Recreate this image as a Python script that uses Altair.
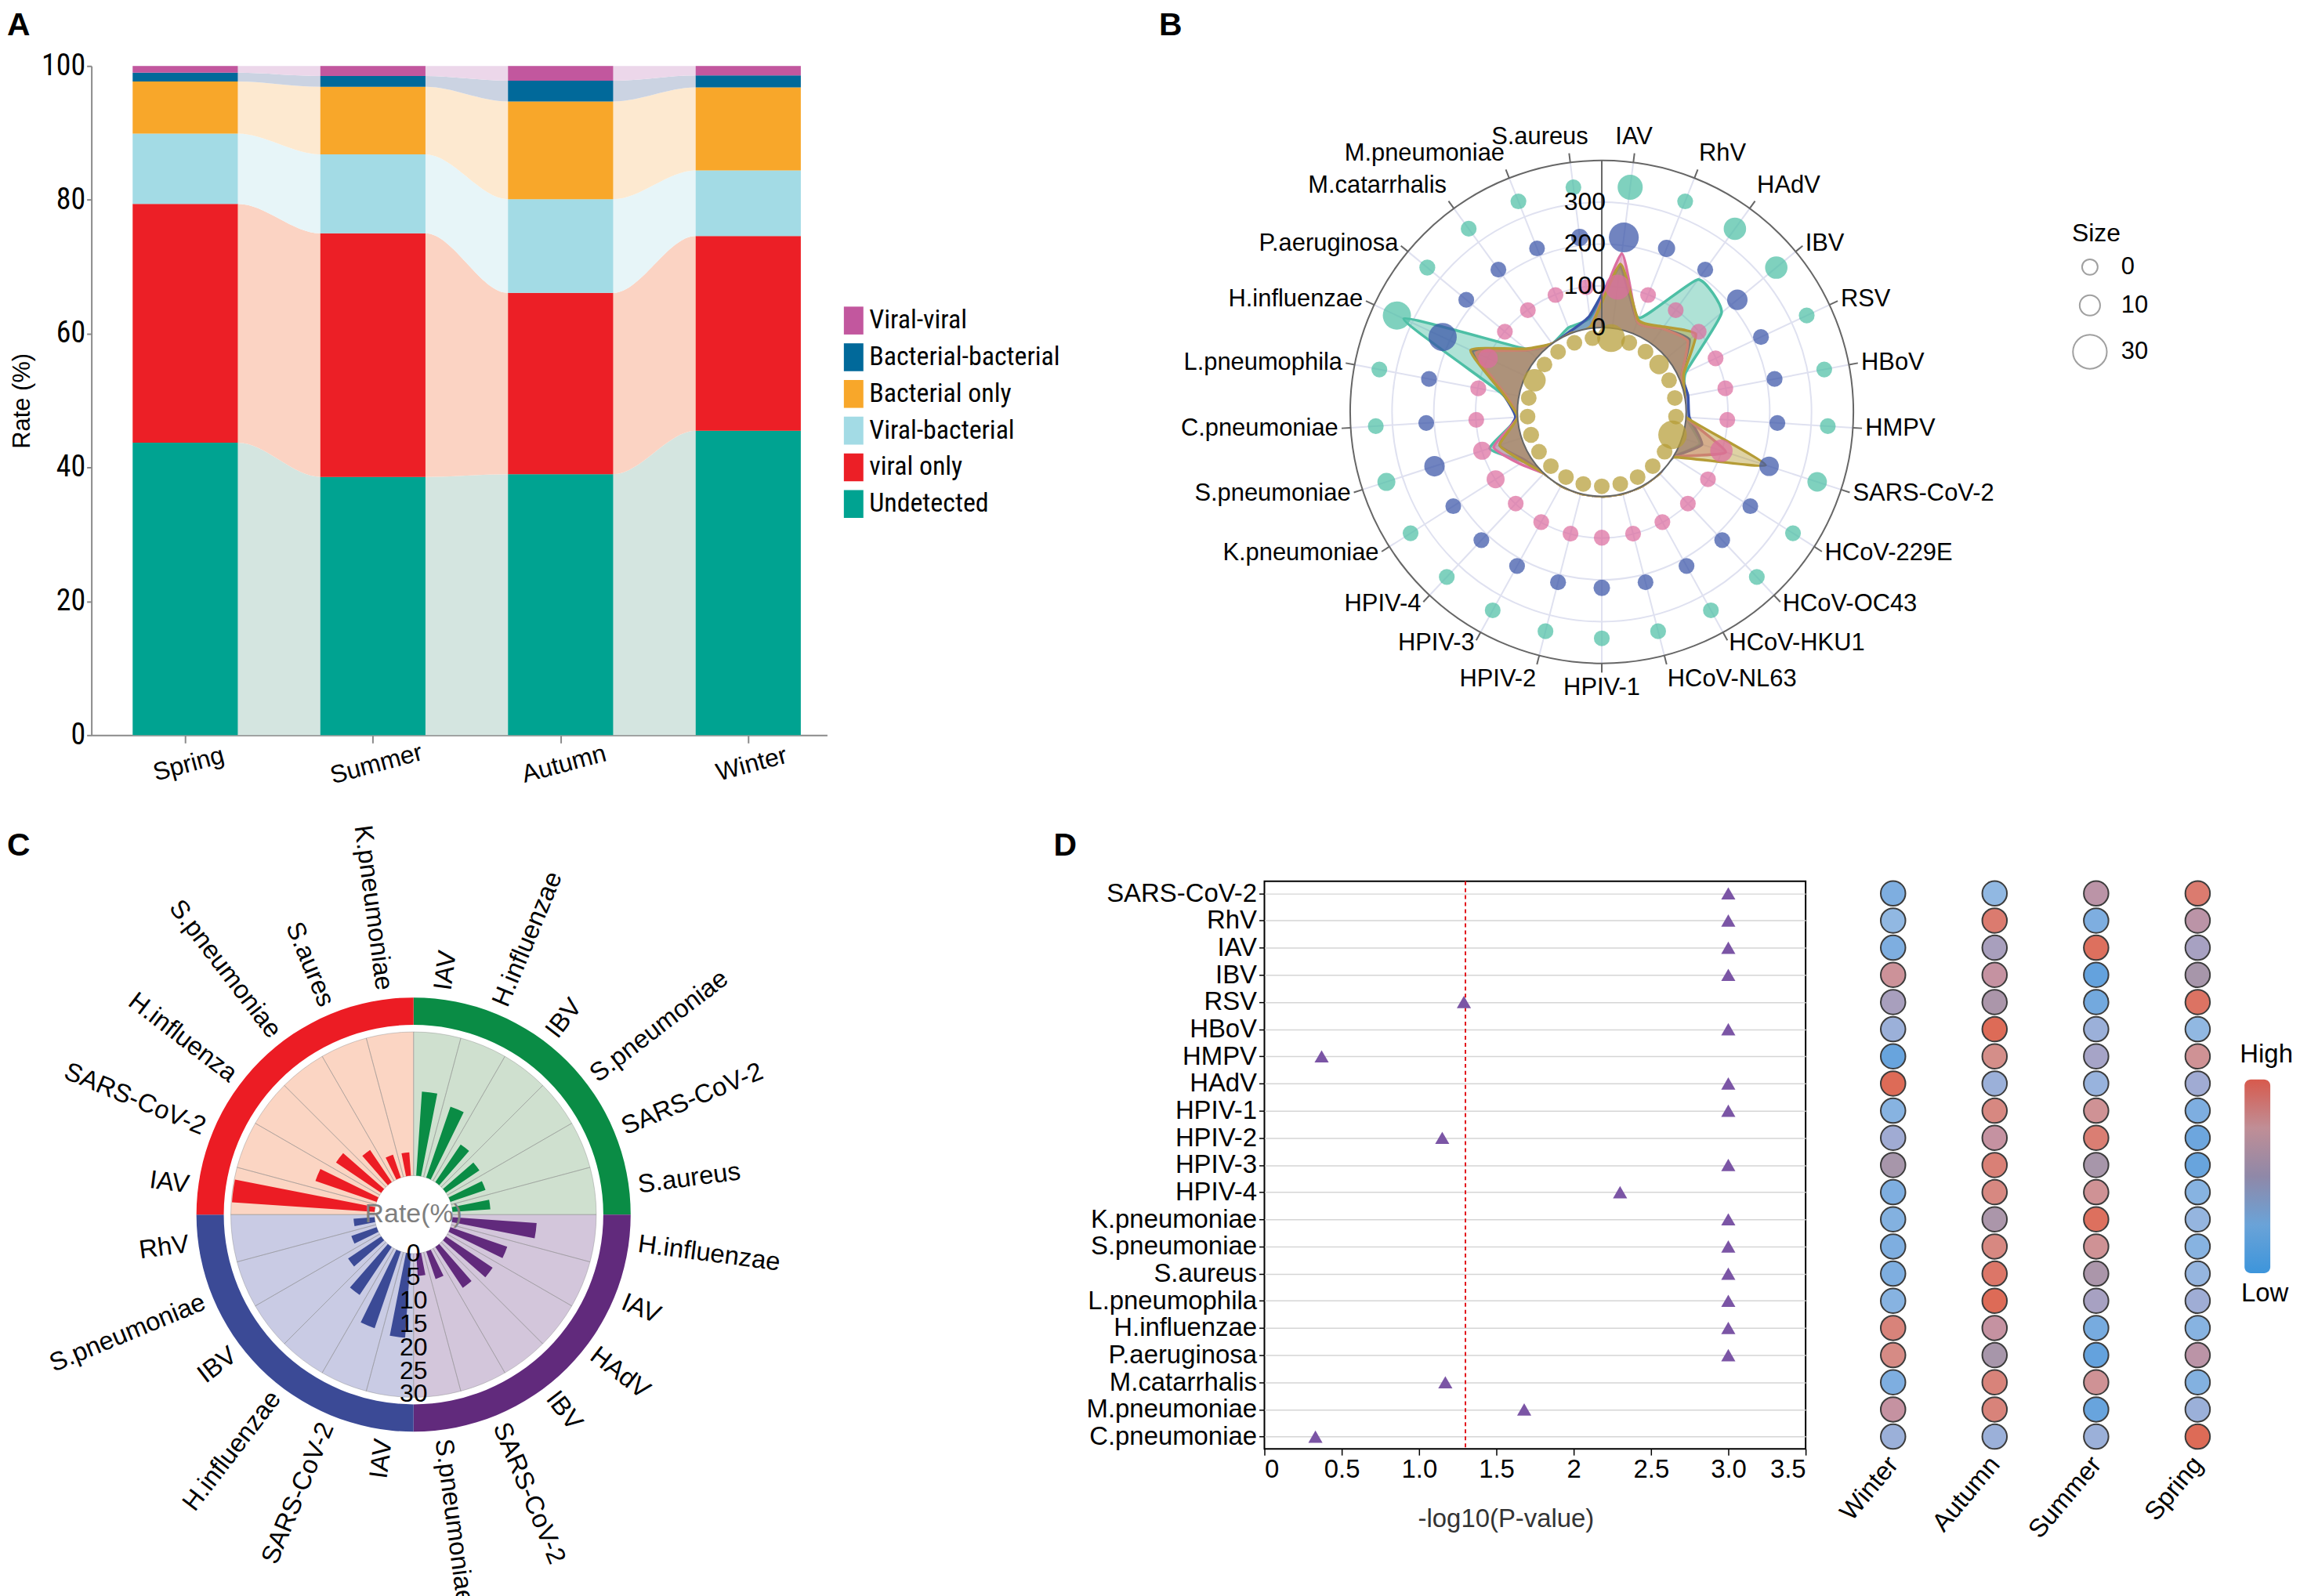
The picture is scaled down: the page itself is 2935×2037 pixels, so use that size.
import altair as alt
import numpy as np
import pandas as pd

FONT = "Liberation Sans, Arial, Helvetica, sans-serif"
NARROW = "Liberation Sans Narrow, Arial Narrow, Roboto Condensed, DejaVu Sans Condensed, Liberation Sans, sans-serif"

# ============================ DATA ============================
seasons = ["Spring", "Summer", "Autumn", "Winter"]

# ---- Panel A : rate (%) per season, stacked bottom -> top
a_groups = ["Undetected", "viral only", "Viral-bacterial", "Bacterial only",
            "Bacterial-bacterial", "Viral-viral"]
a_undetected = [43.7, 38.6, 39.0, 45.5]
a_viral_only = [35.7, 36.4, 27.1, 29.1]
a_viral_bacterial = [10.5, 11.8, 14.0, 9.8]
a_bacterial_only = [7.8, 10.1, 14.6, 12.4]
a_bacterial_bacterial = [1.3, 1.6, 3.1, 1.8]
a_viral_viral = [1.0, 1.5, 2.2, 1.4]
a_colors = ["#00a391", "#ec1f26", "#a3dbe5", "#f8a72a", "#01699a", "#c2579e"]
a_flow_colors = ["#d4e5e0", "#fbd3c3", "#e7f5f8", "#fde9d0", "#cbd3e2", "#ecd7ea"]
a_yticks = [0, 20, 40, 60, 80, 100]

# ---- Panel B : radial plot
b_cats = ["IAV", "RhV", "HAdV", "IBV", "RSV", "HBoV", "HMPV", "SARS-CoV-2",
          "HCoV-229E", "HCoV-OC43", "HCoV-HKU1", "HCoV-NL63", "HPIV-1", "HPIV-2",
          "HPIV-3", "HPIV-4", "K.pneumoniae", "S.pneumoniae", "C.pneumoniae",
          "L.pneumophila", "H.influenzae", "P.aeruginosa", "M.catarrhalis",
          "M.pneumoniae", "S.aureus"]
b_poly_spring = [155, 35, 50, 90, 15, 0, 0, 210, 0, 0, 0, 0, 0, 0, 0, 0, 20, 55, 0, 40, 145, 35, 0, 0, 5]
b_poly_summer = [180, 30, 45, 65, 10, 0, 0, 110, 0, 0, 0, 0, 0, 0, 0, 0, 30, 70, 0, 35, 130, 30, 0, 0, 5]
b_poly_autumn = [150, 30, 45, 70, 10, 8, 8, 50, 0, 0, 0, 0, 0, 0, 0, 0, 15, 55, 5, 40, 140, 30, 0, 5, 30]
b_poly_winter = [145, 40, 190, 170, 20, 0, 0, 45, 0, 0, 0, 0, 0, 0, 0, 0, 20, 80, 0, 45, 322, 35, 0, 15, 25]
b_size_spring = [21, 1.5, 1, 8.5, 0.5, 0.5, 0.5, 22, 0.5, 0.5, 0.5, 0.5, 0.5, 0.5, 0.5, 0.5, 0.5, 2, 0.5, 0.5, 13, 0.5, 0.5, 0.5, 0.5]
b_size_summer = [17, 1, 1, 1, 1, 1, 1, 13, 1, 1, 1, 1, 1.5, 1, 1, 1, 6, 6, 1, 1.5, 8.5, 1, 1, 1, 1]
b_size_autumn = [24, 4.5, 1.5, 10, 1.5, 1.5, 1.5, 8.5, 1, 1, 1, 1, 3, 1.5, 1, 1, 1, 10, 1, 1.5, 21.5, 1, 1, 1, 4.5]
b_size_winter = [17, 1, 13, 13, 1, 1, 1, 8.5, 1, 1, 1, 1, 1, 1, 1, 1, 1, 6, 1, 1, 21.5, 1.5, 1, 1, 1]
b_colors = ["#b59c36", "#dc6ea0", "#3a55a8", "#4dbfa5"]
b_rticks = [0, 100, 200, 300]
b_grid = [100, 200, 300]
b_size_legend = [0, 10, 30]

# ---- Panel C : circular bar chart (quadrants clockwise from 12 o'clock)
c_quadrant_order = ["Autumn", "Winter", "Spring", "Summer"]
c_labels_autumn = ["IAV", "H.influenzae", "IBV", "S.pneumoniae", "SARS-CoV-2", "S.aureus"]
c_rate_autumn = [18.0, 16.0, 9.7, 8.6, 7.9, 8.1]
c_labels_winter = ["H.influenzae", "IAV", "HAdV", "IBV", "SARS-CoV-2", "S.pneumoniae"]
c_rate_winter = [18.0, 12.8, 12.0, 10.5, 6.2, 4.8]
c_labels_spring = ["IAV", "SARS-CoV-2", "H.influenzae", "IBV", "S.pneumoniae", "RhV"]
c_rate_spring = [18.0, 17.3, 12.3, 8.5, 5.7, 4.5]
c_labels_summer = ["IAV", "SARS-CoV-2", "H.influenza", "S.pneumoniae", "S.aures", "K.pneumoniae"]
c_rate_summer = [30.5, 13.8, 11.6, 8.3, 5.2, 5.0]
c_colors = ["#3b4a96", "#ec1c24", "#0a8c45", "#612a7c"]      # Spring, Summer, Autumn, Winter
c_bg_colors = ["#c9cbe4", "#fbd5c3", "#cfe0cf", "#d3c6db"]
c_rticks = [0, 5, 10, 15, 20, 25, 30]

# ---- Panel D
d_cats = ["SARS-CoV-2", "RhV", "IAV", "IBV", "RSV", "HBoV", "HMPV", "HAdV", "HPIV-1",
          "HPIV-2", "HPIV-3", "HPIV-4", "K.pneumoniae", "S.pneumoniae", "S.aureus",
          "L.pneumophila", "H.influenzae", "P.aeruginosa", "M.catarrhalis",
          "M.pneumoniae", "C.pneumoniae"]
d_logp = [3.0, 3.0, 3.0, 3.0, 1.29, 3.0, 0.37, 3.0, 3.0, 1.15, 3.0, 2.30, 3.0, 3.0,
          3.0, 3.0, 3.0, 3.0, 1.17, 1.68, 0.33]
d_threshold = [1.3]
d_xticks = [0, 0.5, 1.0, 1.5, 2.0, 2.5, 3.0, 3.5]
d_heat_order = ["Winter", "Autumn", "Summer", "Spring"]
d_heat_winter = [0.15, 0.25, 0.15, 0.7, 0.42, 0.3, 0.05, 1.0, 0.2, 0.33, 0.5, 0.15, 0.18,
                 0.15, 0.15, 0.2, 0.85, 0.8, 0.15, 0.65, 0.3]
d_heat_autumn = [0.25, 0.9, 0.42, 0.65, 0.52, 1.0, 0.78, 0.3, 0.82, 0.65, 0.87, 0.82, 0.52,
                 0.82, 0.93, 1.0, 0.65, 0.5, 0.85, 0.85, 0.3]
d_heat_summer = [0.6, 0.15, 0.97, 0.03, 0.1, 0.3, 0.38, 0.28, 0.72, 0.88, 0.5, 0.72, 0.97,
                 0.72, 0.52, 0.4, 0.12, 0.03, 0.72, 0.05, 0.3]
d_heat_spring = [0.9, 0.6, 0.4, 0.5, 0.95, 0.25, 0.72, 0.33, 0.15, 0.07, 0.05, 0.2, 0.27,
                 0.2, 0.27, 0.32, 0.2, 0.6, 0.18, 0.3, 1.0]
d_heat_stops = [0, 0.25, 0.5, 0.75, 1]
d_heat_colors = ["#5d9fdc", "#91b8e2", "#a796aa", "#d2938f", "#dd6b57"]
d_legend_colors = ["#d75a4d", "#c08e96", "#8f88a8", "#6aa3d8", "#3d95db"]   # top -> bottom

# ============================ LAYOUT ============================
W1, H1 = 942, 857
W2, H2 = 693, 727
COL_GAP, ROW_GAP = 560, 187


def letter(t, x, y):
    return alt.Chart(pd.DataFrame({"t": [t]})).mark_text(
        font=FONT, fontSize=41, fontWeight="bold", align="left", baseline="top", color="black"
    ).encode(text="t:N", x=alt.value(x), y=alt.value(y))


def text_at(t, x, y, size=33, color="black", align="center"):
    return alt.Chart(pd.DataFrame({"t": [t]})).mark_text(
        font=FONT, fontSize=size, align=align, baseline="middle", color=color
    ).encode(text="t:N", x=alt.value(x), y=alt.value(y))


# ============================ PANEL A ============================
a_series = [a_undetected, a_viral_only, a_viral_bacterial, a_bacterial_only,
            a_bacterial_bacterial, a_viral_viral]
HW = 0.28
bar_rows, flow_rows = [], []
for i, s in enumerate(seasons):
    base = 0.0
    for g, vals in zip(a_groups, a_series):
        top = base + vals[i]
        bar_rows.append(dict(season=s, group=g, x0=i + 1 - HW, x1=i + 1 + HW, y0=base, y1=top))
        for xx in (i + 1 - HW, i + 1 + HW):
            flow_rows.append(dict(group=g, x=xx, y0=base, y1=top))
        base = top
a_bar_df = pd.DataFrame(bar_rows)
a_flow_df = pd.DataFrame(flow_rows)

a_x_scale = alt.Scale(domain=[0.5, 4.42], nice=False, zero=False)
a_y_scale = alt.Scale(domain=[0, 100], nice=False)
a_label_expr = "[" + ", ".join(["''"] + ["'%s'" % s for s in seasons]) + "][datum.value]"
a_x_axis = alt.Axis(values=[1, 2, 3, 4], labelExpr=a_label_expr, title=None, grid=False,
                    labelAngle=345, labelAlign="center", labelBaseline="top", labelFontSize=32,
                    labelPadding=12, tickSize=10, tickWidth=2, tickColor="#8a8a8a",
                    domainColor="#8a8a8a", domainWidth=2)
a_y_axis = alt.Axis(values=a_yticks, title="Rate (%)", grid=False, labelFont=NARROW,
                    labelFontSize=38, titleFontSize=31, tickSize=6, tickWidth=2,
                    tickColor="#8a8a8a", domainColor="#8a8a8a", domainWidth=2,
                    labelPadding=2, titlePadding=8)
a_legend = alt.Legend(title=None, orient="none", legendX=958, legendY=308,
                      symbolType="M-0.7,-1H0.7V1H-0.7Z", symbolSize=1275, symbolStrokeWidth=0,
                      symbolOpacity=1, labelFont=NARROW, labelFontSize=34, labelOffset=2,
                      labelLimit=600, rowPadding=11)

a_flow = alt.Chart(a_flow_df).mark_area(interpolate="monotone").encode(
    x=alt.X("x:Q", scale=a_x_scale, axis=a_x_axis),
    y=alt.Y("y1:Q", scale=a_y_scale, axis=a_y_axis, stack=None),
    y2="y0:Q",
    fill=alt.Fill("group:N", scale=alt.Scale(domain=a_groups, range=a_flow_colors), legend=None),
)
a_bar = alt.Chart(a_bar_df).mark_rect().encode(
    x=alt.X("x0:Q", scale=a_x_scale, axis=a_x_axis),
    x2="x1:Q",
    y=alt.Y("y0:Q", scale=a_y_scale, axis=a_y_axis, stack=None),
    y2="y1:Q",
    color=alt.Color("group:N", scale=alt.Scale(domain=a_groups[::-1], range=a_colors[::-1]),
                    legend=a_legend),
)
panel_a = alt.layer(a_flow, a_bar, letter("A", -108, -71)).properties(width=W1, height=H1)

# ============================ PANEL B ============================
B_K = 0.535          # px per radial unit
B_R0 = 202.0         # radial units of value 0 (hole)
B_MAX = 400.0
B_CX, B_CY = 432.0, 443.0
B_RING = [178.0, 301.0, 421.0, 542.0]   # dot rings, Spring..Winter
n_b = len(b_cats)
b_ang = (np.arange(n_b) + 0.5) * 2 * np.pi / n_b
b_sin, b_cos = np.sin(b_ang), np.cos(b_ang)

b_x_scale = alt.Scale(domain=[-B_CX / B_K, (W2 - B_CX) / B_K], nice=False, zero=False)
b_y_scale = alt.Scale(domain=[-(H1 - B_CY) / B_K, B_CY / B_K], nice=False, zero=False)
b_color_scale = alt.Scale(domain=seasons, range=b_colors)


def bx(f):
    return alt.X(f, scale=b_x_scale, axis=None)


def by(f):
    return alt.Y(f, scale=b_y_scale, axis=None)


def b_circle(vals, stroke=None, width=2, fill=None):
    kw = dict(theta=0, theta2=2 * np.pi)
    if fill is not None:
        kw["fill"] = fill
        kw["fillOpacity"] = 1
    else:
        kw["fillOpacity"] = 0
    if stroke is not None:
        kw["stroke"] = stroke
        kw["strokeWidth"] = width
    df = pd.DataFrame({"v": vals})
    df["rpx"] = (B_R0 + df["v"]) * B_K
    return alt.Chart(df).mark_arc(**kw).encode(
        radius=alt.Radius("rpx:Q", scale=None, stack=None), x=alt.value(B_CX), y=alt.value(B_CY))


spoke_df = pd.DataFrame({"x0": B_R0 * b_sin, "y0": B_R0 * b_cos,
                         "x1": (B_R0 + B_MAX) * b_sin, "y1": (B_R0 + B_MAX) * b_cos})
tick_df = pd.DataFrame({"x0": (B_R0 + B_MAX) * b_sin, "y0": (B_R0 + B_MAX) * b_cos,
                        "x1": (B_R0 + B_MAX + 22) * b_sin, "y1": (B_R0 + B_MAX + 22) * b_cos})
b_spokes = alt.Chart(spoke_df).mark_rule(color="#dfe1f0", strokeWidth=2).encode(
    x=bx("x0:Q"), y=by("y0:Q"), x2="x1:Q", y2="y1:Q")
b_ticks = alt.Chart(tick_df).mark_rule(color="#666666", strokeWidth=2).encode(
    x=bx("x0:Q"), y=by("y0:Q"), x2="x1:Q", y2="y1:Q")

poly_rows = []
for s, vals in zip(["Winter", "Autumn", "Summer", "Spring"],
                   [b_poly_winter, b_poly_autumn, b_poly_summer, b_poly_spring]):
    for i, v in enumerate(vals):
        r = B_R0 + v
        poly_rows.append(dict(season=s, idx=i, x=r * b_sin[i], y=r * b_cos[i]))
b_poly = alt.Chart(pd.DataFrame(poly_rows)).mark_line(
    interpolate="cardinal-closed", tension=0.5, strokeWidth=3.5, fillOpacity=0.45
).encode(
    x=bx("x:Q"), y=by("y:Q"),
    stroke=alt.Stroke("season:N", scale=b_color_scale, legend=None),
    fill=alt.Fill("season:N", scale=b_color_scale, legend=None),
    order="idx:Q",
)

dot_rows = []
for k, (s, sizes) in enumerate(zip(seasons, [b_size_spring, b_size_summer, b_size_autumn, b_size_winter])):
    for i, sz in enumerate(sizes):
        dot_rows.append(dict(season=s, cat=b_cats[i], size=sz,
                             x=B_RING[k] * b_sin[i], y=B_RING[k] * b_cos[i]))
b_dots = alt.Chart(pd.DataFrame(dot_rows)).mark_circle(opacity=0.72).encode(
    x=bx("x:Q"), y=by("y:Q"),
    size=alt.Size("size:Q", scale=alt.Scale(type="pow", exponent=1.5, domain=[0, 30], range=[400, 1886]),
                  legend=alt.Legend(title="Size", values=b_size_legend, orient="none",
                                    legendX=1034, legendY=200, symbolFillColor="white",
                                    symbolStrokeColor="#a0a0a0", symbolStrokeWidth=2,
                                    symbolOpacity=1, labelFontSize=31, titleFontSize=32,
                                    labelOffset=17, rowPadding=16, titlePadding=10)),
    color=alt.Color("season:N", scale=b_color_scale,
                    legend=alt.Legend(title="Group", orient="none", legendX=1042, legendY=517,
                                      symbolType="circle", symbolSize=415, symbolOpacity=1,
                                      labelFontSize=28, titleFontSize=32, rowPadding=9,
                                      labelOffset=10, titlePadding=12)),
)

raxis_df = pd.DataFrame({"x": [0.0], "y0": [B_R0], "y1": [B_R0 + B_MAX]})
b_raxis = alt.Chart(raxis_df).mark_rule(color="#666666", strokeWidth=2).encode(
    x=bx("x:Q"), y=by("y0:Q"), y2="y1:Q")
rlab_df = pd.DataFrame({"x": [0.0] * len(b_rticks), "y": [B_R0 + v for v in b_rticks],
                        "t": [str(v) for v in b_rticks]})
b_rlabels = alt.Chart(rlab_df).mark_text(align="right", baseline="middle", dx=5, fontSize=32,
                                         font=FONT, color="black").encode(
    x=bx("x:Q"), y=by("y:Q"), text="t:N")

b_lab_r = B_R0 + B_MAX + 30
lab_df = pd.DataFrame({"cat": b_cats, "x": b_lab_r * b_sin, "y": b_lab_r * b_cos,
                       "s": b_sin, "c": b_cos})
lab_df["al"] = np.where(lab_df.s > 0.01, "left", np.where(lab_df.s < -0.01, "right", "center"))
lab_df["near"] = np.abs(lab_df.s) < 0.2
lab_df["bl"] = np.where(lab_df.c > 0.75, "bottom", np.where(lab_df.c < -0.9, "top", "middle"))
b_label_layers = []
for (al, bl, near), sub in lab_df.groupby(["al", "bl", "near"]):
    dx = 0
    if near and al == "left":
        dx = -25
    elif near and al == "right":
        dx = 25
    b_label_layers.append(
        alt.Chart(sub).mark_text(align=al, baseline=bl, dx=dx, fontSize=31, font=FONT, color="black")
        .encode(x=bx("x:Q"), y=by("y:Q"), text="cat:N"))

panel_b = alt.layer(
    b_circle(b_grid, stroke="#dfe1f0", width=2),
    b_spokes,
    b_circle([B_MAX], stroke="#666666", width=2),
    b_ticks,
    b_poly,
    b_circle([0], fill="white"),
    b_circle([0], stroke="#666666", width=2),
    b_raxis,
    b_dots,
    b_rlabels,
    *b_label_layers,
    letter("B", -135, -71),
).properties(width=W2, height=H1)

# ============================ PANEL C ============================
C_CX, C_CY = 412.5, 427.0
C_HOLE, C_TOP = 50.0, 230.0
C_BG = 234.0
C_RING_IN, C_RING_OUT = 243.0, 278.0
C_LAB = 290.0
c_theta_scale = alt.Scale(type="linear", domain=[0, 24], range=[0, 2 * np.pi], zero=False, nice=False)
c_r_scale = alt.Scale(type="linear", domain=[0, 30], range=[C_HOLE, C_TOP], zero=False, nice=False)
c_color_scale = alt.Scale(domain=seasons, range=c_colors)

c_sets = {"Autumn": (c_labels_autumn, c_rate_autumn), "Winter": (c_labels_winter, c_rate_winter),
          "Spring": (c_labels_spring, c_rate_spring), "Summer": (c_labels_summer, c_rate_summer)}
c_rows = []
for q, s in enumerate(c_quadrant_order):
    labs, rates = c_sets[s]
    for j, (lab, r) in enumerate(zip(labs, rates)):
        idx = q * len(labs) + j
        c_rows.append(dict(season=s, name=lab, rate=r, s0=idx, s1=idx + 1,
                           t0=idx + 0.26, t1=idx + 0.74, tc=idx + 0.5))
c_df = pd.DataFrame(c_rows)
deg = c_df.tc * 360.0 / 24
c_df["ang"] = np.where(deg < 180, (deg - 90) % 360, (deg + 90) % 360)
c_df["side"] = np.where(deg < 180, "right", "left")
c_quad_df = pd.DataFrame({"season": c_quadrant_order,
                          "q0": [6 * k for k in range(4)], "q1": [6 * k + 6 for k in range(4)]})
c_legend = alt.Legend(title="Group", orient="none", legendX=733, legendY=679, symbolType="circle",
                      symbolSize=346, symbolOpacity=1, labelFontSize=33, titleFontSize=33,
                      rowPadding=0, titlePadding=4, labelOffset=8)
cx, cy = alt.value(C_CX), alt.value(C_CY)

c_bg = alt.Chart(c_quad_df).mark_arc().encode(
    theta=alt.Theta("q0:Q", scale=c_theta_scale, stack=None), theta2="q1:Q",
    radius=alt.value(C_BG), radius2=alt.value(C_HOLE),
    fill=alt.Fill("season:N", scale=alt.Scale(domain=seasons, range=c_bg_colors), legend=None),
    x=cx, y=cy)
c_sect = alt.Chart(c_df).mark_arc(fillOpacity=0, stroke="#8c8c8c", strokeWidth=0.7, strokeOpacity=0.6).encode(
    theta=alt.Theta("s0:Q", scale=c_theta_scale, stack=None), theta2="s1:Q",
    radius=alt.value(C_BG), radius2=alt.value(C_HOLE), x=cx, y=cy)
c_bars = alt.Chart(c_df).mark_arc().encode(
    theta=alt.Theta("t0:Q", scale=c_theta_scale, stack=None), theta2="t1:Q",
    radius=alt.Radius("rate:Q", scale=c_r_scale, stack=None), radius2=alt.value(C_HOLE),
    color=alt.Color("season:N", scale=c_color_scale, legend=c_legend), x=cx, y=cy)
c_ring = alt.Chart(c_quad_df).mark_arc().encode(
    theta=alt.Theta("q0:Q", scale=c_theta_scale, stack=None), theta2="q1:Q",
    radius=alt.value(C_RING_OUT), radius2=alt.value(C_RING_IN),
    color=alt.Color("season:N", scale=c_color_scale, legend=c_legend), x=cx, y=cy)
c_tick_df = pd.DataFrame({"v": c_rticks, "pos": [12] * len(c_rticks)})
c_ticks = alt.Chart(c_tick_df).mark_text(fontSize=32, font=FONT, align="center", baseline="middle",
                                         color="black").encode(
    theta=alt.Theta("pos:Q", scale=c_theta_scale, stack=None),
    radius=alt.Radius("v:Q", scale=c_r_scale, stack=None), text="v:Q", x=cx, y=cy)
c_label_layers = []
for side, al in (("right", "left"), ("left", "right")):
    sub = c_df[c_df.side == side]
    c_label_layers.append(
        alt.Chart(sub).mark_text(fontSize=33, font=FONT, align=al, baseline="middle", color="black").encode(
            theta=alt.Theta("tc:Q", scale=c_theta_scale, stack=None),
            radius=alt.value(C_LAB), angle=alt.Angle("ang:Q", scale=None),
            text="name:N", x=cx, y=cy))

panel_c = alt.layer(
    c_bg, c_sect, c_bars, c_ring, c_ticks,
    text_at("Rate(%)", C_CX, C_CY, size=34, color="#7f7f7f"),
    *c_label_layers,
    letter("C", -108, -65),
).properties(width=W1, height=H2)

# ============================ PANEL D ============================
d_y = alt.Y("cat:N", sort=d_cats, scale=alt.Scale(type="point", padding=0.45),
            axis=alt.Axis(title=None, grid=True, gridColor="#d5d5d5", gridWidth=1.5,
                          labelFontSize=33, labelPadding=3, labelLimit=600, tickSize=7,
                          tickWidth=1.5, tickColor="black", domain=False, labelColor="black"))
d_x_scale = alt.Scale(domain=[0, 3.5], nice=False, zero=False)
d_x_axis = alt.Axis(values=d_xticks,
                    labelExpr="datum.value == 0 ? '0' : datum.value == 2 ? '2' : format(datum.value, '.1f')",
                    title="-log10(P-value)", grid=False, domain=False, tickColor="black",
                    tickSize=8, tickWidth=1.5, labelFontSize=33, titleFontSize=33,
                    titleColor="#333333", titleX=309, titleY=90, titleBaseline="middle")
d_df = pd.DataFrame({"cat": d_cats, "p": d_logp})
d_tri = alt.Chart(d_df).mark_point(shape="triangle-up", filled=True, size=330, color="#7b55a5",
                                   opacity=1).encode(
    x=alt.X("p:Q", scale=d_x_scale, axis=d_x_axis), y=d_y)
d_rule = alt.Chart(pd.DataFrame({"t": d_threshold})).mark_rule(
    color="#e3171d", strokeDash=[5, 4], strokeWidth=2).encode(
    x=alt.X("t:Q", scale=d_x_scale, axis=d_x_axis))

heat_rows = []
for s, vals in zip(d_heat_order, [d_heat_winter, d_heat_autumn, d_heat_summer, d_heat_spring]):
    for c, v in zip(d_cats, vals):
        heat_rows.append(dict(season=s, cat=c, val=v))
d_heat = alt.Chart(pd.DataFrame(heat_rows)).mark_point(
    shape="circle", filled=True, size=1000, stroke="#3c3c3c", strokeWidth=2, opacity=1).encode(
    x=alt.X("season:N", sort=d_heat_order,
            scale=alt.Scale(type="point", range=[805, 1195], padding=0),
            axis=alt.Axis(orient="bottom", title=None, labelAngle=310, labelAlign="right",
                          labelBaseline="middle", domain=False, ticks=False, grid=False,
                          labelFontSize=33, labelPadding=14, labelColor="black")),
    y=d_y,
    color=alt.Color("val:Q", scale=alt.Scale(domain=d_heat_stops, range=d_heat_colors), legend=None),
)
d_grad = alt.Chart(pd.DataFrame({"k": [0]})).mark_rect(
    cornerRadius=8,
    color=alt.Gradient(gradient="linear",
                       stops=[alt.GradientStop(color=c, offset=o)
                              for c, o in zip(d_legend_colors, d_heat_stops)],
                       x1=0, x2=0, y1=0, y2=1),
).encode(x=alt.value(1255), x2=alt.value(1288), y=alt.value(254), y2=alt.value(502))

panel_d = alt.layer(
    alt.layer(d_rule, d_tri),
    d_heat,
    d_grad,
    text_at("High", 1283, 222),
    text_at("Low", 1281, 528),
    letter("D", -270, -65),
).resolve_scale(x="independent").properties(
    width=W2, height=H2, view=alt.ViewBackground(stroke="black", strokeWidth=2))

# ============================ ASSEMBLE ============================
chart = alt.concat(
    panel_a, panel_b, panel_c, panel_d,
    columns=2, spacing={"row": ROW_GAP, "column": COL_GAP}, bounds="flush",
).resolve_scale(
    color="independent", fill="independent", stroke="independent", size="independent",
    radius="independent", theta="independent", angle="independent"
).properties(padding=0).configure(font=FONT).configure_view(stroke="transparent").configure_axis(
    labelFont=FONT, titleFont=FONT, titleFontWeight="normal", labelColor="black", titleColor="black"
).configure_legend(
    labelFont=FONT, titleFont=FONT, titleFontWeight="normal", labelColor="black", titleColor="black",
    padding=0
)

chart.save("out.html", embed_options={"renderer": "svg", "actions": False})
